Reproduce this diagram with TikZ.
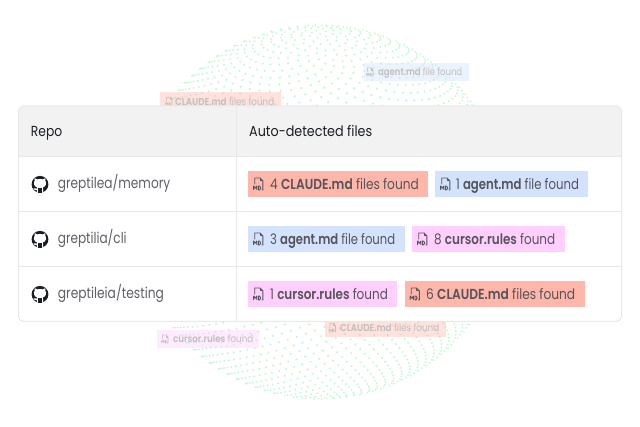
\documentclass[tikz,border=0pt]{standalone}
\usepackage{fontspec}
\usepackage{graphicx}
\setmainfont[BoldFont={Poppins SemiBold}]{Poppins}
\definecolor{dotc}{HTML}{C2F9D0}
\definecolor{redc}{HTML}{FFB6AB}
\definecolor{bluec}{HTML}{D4E3FD}
\definecolor{pinkc}{HTML}{FFCFFD}
\definecolor{linec}{HTML}{E8E8E8}
\definecolor{headc}{HTML}{F2F2F2}
\definecolor{inkc}{HTML}{55555A}
\definecolor{repoc}{HTML}{5F6068}
\definecolor{ghostc}{HTML}{BFBFBF}
\definecolor{markc}{HTML}{1A1E23}
\tikzset{
  txt/.style={inner sep=0pt,anchor=base west,text=inkc,font=\fontsize{14.5}{16}\selectfont},
  headtxt/.style={txt,text=markc,font=\fontsize{14.5}{16}\selectfont},
  repotxt/.style={txt,text=repoc,font=\fontsize{15}{17}\selectfont},
  ghosttxt/.style={txt,text=ghostc,font=\fontsize{10}{11}\selectfont},
  chipbox/.style={inner sep=0pt,anchor=north west,draw=none},
  ghostbox/.style={chipbox,fill opacity=.4},
}
\newcommand\fit[2]{\resizebox*{#1pt}{\totalheight}{#2}}
% centre x, centre y, scale, colour
\newcommand\fileicon[4]{%
  \begin{scope}[shift={(#1,#2)},scale=#3,line join=round]
    \draw[#4,line width=#3*.85pt] (-3.8,0.5) -- (-3.8,-6) -- (1.5,-6) -- (4.4,-3.2) -- (4.4,6) -- (3,6);
    \draw[#4,line width=#3*.75pt] (1.5,-6) -- (1.5,-3.2) -- (4.4,-3.2);
    \draw[#4,line width=#3*.95pt] (-4.8,6) -- (-4.8,2) -- (-3.2,4.2) -- (-1.6,2) -- (-1.6,6);
    \draw[#4,line width=#3*.95pt] (0,2) -- (0,6) -- (1,6) -- (2.2,4) -- (1,2) -- cycle;
  \end{scope}}
% centre x, centre y
\newcommand\ghmark[2]{%
  \begin{scope}[shift={(#1,#2)}]
    \fill[markc] (0,0) circle (8.4);
    \begin{scope}[scale=1.1]
    \fill[white] (-4.8,-5.6) -- (-2.6,-4.5) .. controls (-1,-4.9) and (1,-4.9) .. (2.6,-4.5) -- (4.8,-5.6)
      .. controls (5.3,-4.2) and (5.2,-3.4) .. (5,-2.9) .. controls (6,-1.6) and (5.8,2.2) .. (2.4,3)
      .. controls (2.8,3.6) and (2.9,4.2) .. (2.9,7.6) -- (-2.9,7.6)
      .. controls (-2.9,6.8) and (-2.9,5.6) .. (-2.9,5.2) .. controls (-4.6,5.8) and (-5.4,4.8) .. (-6,3.6)
      .. controls (-5,4) and (-3.8,4.4) .. (-2.7,3.9) .. controls (-2.6,3.4) and (-2.5,3.2) .. (-2.4,3)
      .. controls (-5.8,2.2) and (-6,-1.6) .. (-5,-2.9) .. controls (-5.2,-3.4) and (-5.3,-4.2) .. (-4.8,-5.6) -- cycle;
    \fill[markc] (-1.7,3.6) -- (1.7,3.6) -- (1.7,7.8) -- (-1.7,7.8) -- cycle;
    \end{scope}
  \end{scope}}
% name, x1, x2, y1, colour, icon x, text x, text width, text
\newcommand\chiprow[9]{%
  \node[chipbox,fill=#5,minimum width={(#3-#2)*1pt},minimum height=26pt] (#1) at (#2,#4) {};
  \fileicon{#6}{#4+13}{1}{inkc}
  \node[txt] (#1t) at (#7,#4+18.5) {\fit{#8}{#9}};}
% name, x1, x2, y1, height, colour, icon x, text x, text
\newcommand\ghost[9]{%
  \node[ghostbox,fill=#6,minimum width={(#3-#2)*1pt},minimum height={#5*1pt}] (#1) at (#2,#4) {};
  \fileicon{#7}{#4+#5/2}{.68}{ghostc}
  \node[ghosttxt] (#1t) at (#8,#4+#5/2+3.8) {#9};}
\begin{document}
\begin{tikzpicture}[x=1pt,y=-1pt]
\useasboundingbox (0,0) rectangle (640,427);
\fill[white] (0,0) rectangle (640,427);
% dotted globe: a Fibonacci lattice on a tilted sphere
\xdef\gtheta{0}
\pgfmathsetmacro{\gtc}{cos(62)}
\pgfmathsetmacro{\gts}{sin(62)}
\foreach \i in {1,...,4500}{
  \pgfmathsetmacro{\gz}{1-2*(\i-.5)/4500}
  \pgfmathsetmacro{\gr}{sqrt(max(0,1-\gz*\gz))}
  \pgfmathsetmacro{\gnew}{mod(\gtheta+137.508,360)}
  \xdef\gtheta{\gnew}
  \pgfmathsetmacro{\gx}{\gr*cos(\gtheta)}
  \pgfmathsetmacro{\gy}{\gr*sin(\gtheta)}
  \pgfmathsetmacro{\gzz}{\gy*\gts+\gz*\gtc}
  \pgfmathsetmacro{\gyy}{\gy*\gtc-\gz*\gts}
  \pgfmathsetmacro{\py}{212+187*\gyy}
  \pgfmathparse{(\gzz>0 && (\py<106 || \py>322)) ? 1 : 0}
  \ifnum\pgfmathresult=1
    \pgfmathsetmacro{\px}{320+187*\gx}
    \pgfmathsetmacro{\pr}{.95+.4*\gzz}
    \fill[dotc] (\px,\py) circle (\pr);
  \fi
}
% faded chips behind the table
\ghost{g1}{160}{281}{92.3}{18}{redc}{169}{175}{\fit{99}{\textbf{CLAUDE.md} files found}}
\ghost{g2}{363.3}{468.7}{63}{18}{bluec}{370}{378}{\fit{84}{\textbf{agent.md} file found}}
\ghost{g3}{157}{259}{330}{18}{pinkc}{165}{173}{\fit{80}{\textbf{cursor.rules} found}}
\ghost{g4}{325}{446}{318.7}{18}{redc}{332.5}{340}{\fit{99}{\textbf{CLAUDE.md} files found}}
% table
\fill[white] (18.5,106) [rounded corners=5pt] -- (18.5,321.5) -- (621.5,321.5) -- (621.5,106) -- (18.5,106) -- cycle;
\fill[headc, rounded corners=5pt] (18.5,156.5) [sharp corners] -- (18.5,156.5) [rounded corners=5pt] -- (18.5,106) -- (621.5,106) [sharp corners] -- (621.5,156.5) -- cycle;
\draw[linec,line width=1pt] (18.5,156.5) -- (621.5,156.5) (18.5,211.5) -- (621.5,211.5) (18.5,266.5) -- (621.5,266.5) (236.5,106) -- (236.5,321.5);
\draw[linec,line width=1pt,rounded corners=5pt] (18.5,106) rectangle (621.5,321.5);
\node[headtxt] (hrepo) at (30.7,136.5) {\fit{31.3}{Repo}};
\node[headtxt] (hfiles) at (249,136.5) {\fit{123}{Auto-detected files}};
\ghmark{40}{184.3}
\ghmark{40}{239.3}
\ghmark{40}{294.3}
\node[repotxt] (r1) at (57.7,189) {\fit{112.3}{greptilea/memory}};
\node[repotxt] (r2) at (57.7,244) {\fit{68.8}{greptilia/cli}};
\node[repotxt] (r3) at (57.7,299) {\fit{106}{greptileia/testing}};
\chiprow{a1}{248}{427.5}{171}{redc}{258.5}{270}{148.7}{4 \textbf{CLAUDE.md} files found}
\chiprow{a2}{435}{587.7}{171}{bluec}{445.5}{456}{122.7}{1 \textbf{agent.md} file found}
\chiprow{b1}{248}{404.3}{226}{bluec}{258.5}{270}{125}{3 \textbf{agent.md} file found}
\chiprow{b2}{412}{564.7}{226}{pinkc}{422.5}{434}{121}{8 \textbf{cursor.rules} found}
\chiprow{c1}{248}{396.7}{281}{pinkc}{258.5}{270}{117.7}{1 \textbf{cursor.rules} found}
\chiprow{c2}{404.7}{584.3}{281}{redc}{415}{426}{149}{6 \textbf{CLAUDE.md} files found}
\end{tikzpicture}
\end{document}
